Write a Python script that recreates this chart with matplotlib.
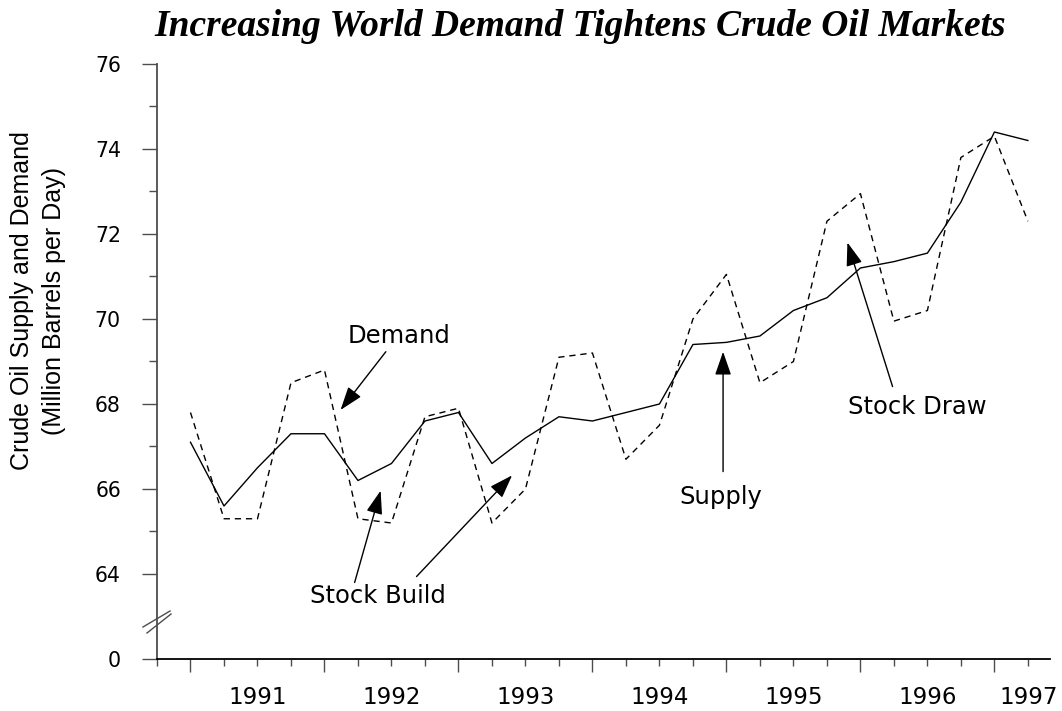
import matplotlib
matplotlib.use('Agg')
import matplotlib.pyplot as plt
import matplotlib.transforms as mtransforms

# quarterly points, 1991 Q1 .. 1997 Q2
quarters = [1991.0, 1991.25, 1991.5, 1991.75, 1992.0, 1992.25, 1992.5, 1992.75,
            1993.0, 1993.25, 1993.5, 1993.75, 1994.0, 1994.25, 1994.5, 1994.75,
            1995.0, 1995.25, 1995.5, 1995.75, 1996.0, 1996.25, 1996.5, 1996.75,
            1997.0, 1997.25]
supply = [67.1, 65.6, 66.5, 67.3, 67.3, 66.2, 66.6, 67.6, 67.8, 66.6, 67.2, 67.7,
          67.6, 67.8, 68.0, 69.4, 69.45, 69.6, 70.2, 70.5, 71.2, 71.35, 71.55,
          72.75, 74.4, 74.2]
demand = [67.8, 65.3, 65.3, 68.5, 68.8, 65.3, 65.2, 67.7, 67.9, 65.2, 66.0, 69.1,
          69.2, 66.7, 67.5, 70.0, 71.05, 68.5, 69.0, 72.3, 72.95, 69.95, 70.2,
          73.8, 74.3, 72.3]
years = ['1991', '1992', '1993', '1994', '1995', '1996', '1997']
year_pos = [1991.5, 1992.5, 1993.5, 1994.5, 1995.5, 1996.5, 1997.256]
ytick_vals = [62, 64, 66, 68, 70, 72, 74, 76]
ytick_labels = ['0', '64', '66', '68', '70', '72', '74', '76']

sans = 'DejaVu Sans'
axis_col = '#4d4d4d'

fig = plt.figure(figsize=(10.62, 7.11), dpi=100)
ax = fig.add_axes([157 / 1062, 52 / 711, 893 / 1062, 595 / 711])

ax.plot(quarters, supply, color='black', lw=1.0)
ax.plot(quarters, demand, color='black', lw=1.0, dashes=(4.5, 3.5))

ax.set_xlim(1990.825, 1997.415)
ax.set_ylim(62, 76)

for s in ['top', 'right']:
    ax.spines[s].set_visible(False)
ax.spines['left'].set_color(axis_col)
ax.spines['bottom'].set_color('black')
ax.spines['left'].set_linewidth(1.3)
ax.spines['bottom'].set_linewidth(1.3)

# x axis: year boundaries major, quarters minor, labels centred in each year
ax.set_xticks([1991, 1992, 1993, 1994, 1995, 1996, 1997])
ax.set_xticklabels([])
ax.set_xticks([q for q in quarters if q % 1 != 0] + [1990.75], minor=True)
ax.tick_params(axis='x', which='major', direction='out', length=9.5, width=1.0, color=axis_col)
ax.tick_params(axis='x', which='minor', direction='out', length=5, width=1.0, color=axis_col)
trans = mtransforms.blended_transform_factory(ax.transData, ax.transAxes)
for lab, pos in zip(years, year_pos):
    ax.text(pos, -0.064, lab, transform=trans, ha='center', va='center',
            fontsize=16.5, family=sans)

# y axis with break between 0 and 64
ax.set_yticks(ytick_vals)
ax.set_yticklabels(ytick_labels, fontsize=14.8, family=sans)
ax.set_yticks([65, 67, 69, 71, 73, 75], minor=True)
ax.tick_params(axis='y', which='major', direction='out', length=11, width=1.0,
               color=axis_col, pad=15)
ax.tick_params(axis='y', which='minor', direction='out', length=6, width=1.0, color=axis_col)
for (x0, y0, x1, y1) in [(-0.0157, 0.0538, 0.0146, 0.0807), (-0.0112, 0.0437, 0.0157, 0.0756)]:
    ax.plot([x0, x1], [y0, y1], transform=ax.transAxes, color=axis_col, lw=1.0, clip_on=False)

# title and axis label
fig.text(580 / 1062, 1 - 36 / 711, 'Increasing World Demand Tightens Crude Oil Markets',
         ha='center', va='baseline', fontsize=27, family='Liberation Serif',
         weight='bold', style='italic')
fig.text(38 / 1062, 1 - 301 / 711, 'Crude Oil Supply and Demand\n(Million Barrels per Day)',
         rotation=90, ha='center', va='center', multialignment='center',
         fontsize=18, family='Liberation Sans', linespacing=1.4)

# annotations
arrow = dict(arrowstyle='-|>,head_length=0.72,head_width=0.25', color='black',
             lw=1.0, mutation_scale=20, shrinkA=0, shrinkB=0)
ax.text(1992.557, 69.6, 'Demand', ha='center', va='center', fontsize=17.5, family=sans)
ax.annotate('', xy=(1992.12, 67.86), xytext=(1992.458, 69.23), arrowprops=arrow)

ax.text(1992.40, 63.48, 'Stock Build', ha='center', va='center', fontsize=17.5, family=sans)
ax.annotate('', xy=(1992.419, 65.96), xytext=(1992.225, 63.80), arrowprops=arrow)
ax.annotate('', xy=(1993.40, 66.32), xytext=(1992.687, 63.94), arrowprops=arrow)

ax.text(1994.96, 65.81, 'Supply', ha='center', va='center', fontsize=17.5, family=sans)
ax.annotate('', xy=(1994.975, 69.23), xytext=(1994.975, 66.41), arrowprops=arrow)

ax.text(1996.426, 67.94, 'Stock Draw', ha='center', va='center', fontsize=17.5, family=sans)
ax.annotate('', xy=(1995.903, 71.80), xytext=(1996.24, 68.41), arrowprops=arrow)

fig.savefig('out.png', dpi=100)
